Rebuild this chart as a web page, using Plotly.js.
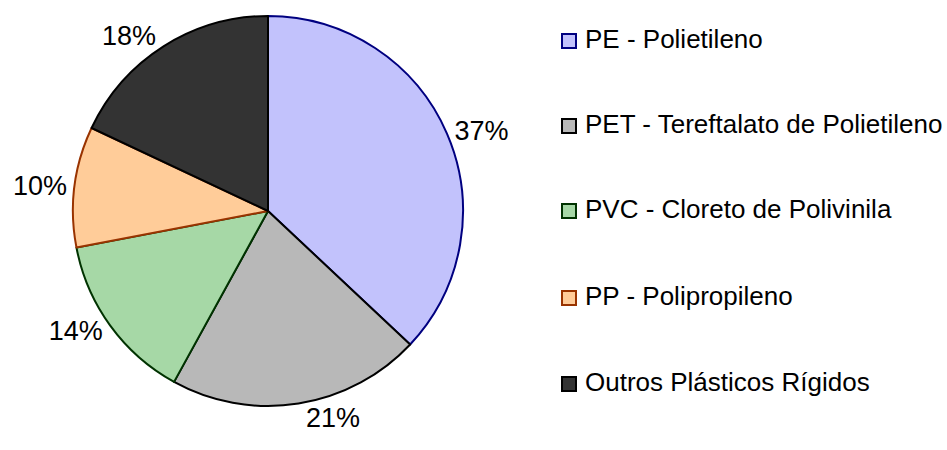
<!DOCTYPE html>
<html><head><meta charset="utf-8">
<script src="https://cdn.plot.ly/plotly-3.0.1.min.js"></script>
<style>html,body{margin:0;padding:0;background:#fff}</style>
</head><body>
<div id="chart" style="width:947px;height:450px"></div>
<script>
const categories = ["PE - Polietileno","PET - Tereftalato de Polietileno","PVC - Cloreto de Polivinila","PP - Polipropileno","Outros Plásticos Rígidos"];
const values = [37, 21, 14, 10, 18];
const fillColors = ["#c2c2fc","#b8b8b8","#a6d8a6","#ffcc99","#333333"];
const lineColors = ["#000080","#000000","#003300","#993300","#000000"];

const W = 947, H = 450;
const legendX0 = 562, legendSize = 14, legendTextX = 583;
const legendY = [41, 126, 211, 298, 384];

const shapes = [], annotations = [];
categories.forEach((c, i) => {
  shapes.push({type:"rect", xref:"paper", yref:"paper",
    x0: legendX0/W, x1:(legendX0+legendSize)/W,
    y0: 1-(legendY[i]+legendSize/2)/H, y1: 1-(legendY[i]-legendSize/2)/H,
    fillcolor: fillColors[i], line:{color: lineColors[i], width:2}});
  annotations.push({xref:"paper", yref:"paper", x: legendTextX/W, y: 1-(legendY[i]-2)/H,
    xanchor:"left", yanchor:"middle", showarrow:false, text:c,
    font:{family:"Liberation Sans, Arial, sans-serif", size:26, color:"#000"}});
});

const data = [{
  type:"pie", values: values, labels: categories, sort:false, direction:"clockwise", rotation:0,
  textposition:"outside", texttemplate:"%{percent:.0%}",
  textfont:{family:"Liberation Sans, Arial, sans-serif", size:27, color:"#000"},
  marker:{colors: fillColors, line:{color: lineColors, width:2}},
  domain:{x:[73/W, 463/W], y:[(H-406)/H, (H-16)/H]},
  hoverinfo:"none", showlegend:false
}];
const layout = {width:W, height:H, margin:{l:0,r:0,t:0,b:0}, paper_bgcolor:"#fff",
  showlegend:false, shapes: shapes, annotations: annotations};
Plotly.newPlot("chart", data, layout, {staticPlot:true});
</script>
</body></html>
